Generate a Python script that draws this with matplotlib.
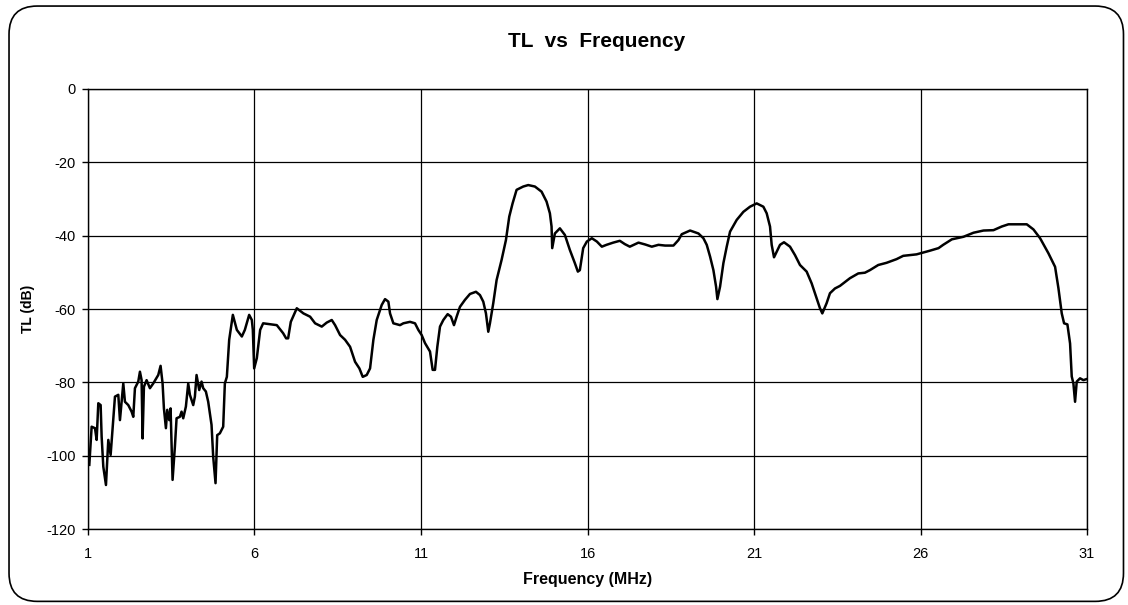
import matplotlib
matplotlib.use("Agg")
import matplotlib.pyplot as plt
from matplotlib.patches import FancyBboxPatch

# frequency (MHz) and transmission loss (dB)
freq = [1.04, 1.11, 1.21, 1.26, 1.31, 1.38, 1.41, 1.46, 1.54, 1.61, 1.68, 1.76, 1.81,
        1.91, 1.96, 2.01, 2.06, 2.11, 2.21, 2.31, 2.36, 2.41, 2.51, 2.56, 2.61, 2.64,
        2.68, 2.76, 2.86, 2.96, 3.11, 3.18, 3.24, 3.28, 3.34, 3.38, 3.44, 3.48, 3.54,
        3.61, 3.66, 3.76, 3.81, 3.86, 3.94, 4.01, 4.06, 4.16, 4.21, 4.26, 4.34, 4.41,
        4.46, 4.54, 4.61, 4.71, 4.76, 4.83, 4.88, 4.96, 5.06, 5.11, 5.17, 5.24, 5.35,
        5.47, 5.62, 5.71, 5.84, 5.92, 5.95, 5.99, 6.07, 6.17, 6.26, 6.67, 6.86, 6.95,
        7.01, 7.09, 7.27, 7.47, 7.67, 7.82, 8.02, 8.17, 8.32, 8.42, 8.57, 8.72, 8.87,
        9.02, 9.15, 9.25, 9.37, 9.47, 9.57, 9.67, 9.82, 9.92, 10.02, 10.07, 10.17,
        10.37, 10.47, 10.67, 10.82, 10.92, 11.02, 11.12, 11.27, 11.35, 11.42, 11.49,
        11.57, 11.67, 11.80, 11.90, 11.99, 12.07, 12.17, 12.32, 12.47, 12.65, 12.77,
        12.87, 12.95, 13.02, 13.07, 13.17, 13.27, 13.42, 13.55, 13.65, 13.75, 13.87,
        14.07, 14.22, 14.42, 14.62, 14.77, 14.87, 14.92, 14.94, 15.02, 15.17, 15.32,
        15.47, 15.62, 15.71, 15.77, 15.87, 15.98, 16.13, 16.28, 16.43, 16.57, 16.77,
        16.97, 17.12, 17.27, 17.53, 17.73, 17.93, 18.13, 18.33, 18.58, 18.73, 18.83,
        19.08, 19.33, 19.48, 19.58, 19.68, 19.78, 19.86, 19.90, 19.98, 20.08, 20.18,
        20.28, 20.48, 20.68, 20.88, 21.08, 21.28, 21.38, 21.48, 21.53, 21.60, 21.68,
        21.78, 21.90, 22.08, 22.23, 22.38, 22.58, 22.73, 22.88, 22.98, 23.05, 23.18,
        23.28, 23.43, 23.58, 23.68, 23.88, 24.13, 24.33, 24.48, 24.73, 24.98, 25.28,
        25.48, 25.88, 26.00, 26.28, 26.54, 26.68, 26.94, 27.29, 27.59, 27.89, 28.19,
        28.44, 28.64, 28.89, 29.19, 29.39, 29.59, 29.84, 30.04, 30.14, 30.24, 30.31,
        30.41, 30.49, 30.54, 30.59, 30.64, 30.69, 30.79, 30.89, 30.99]
tl_db = [-102.5, -92.1, -92.5, -95.7, -85.7, -86.2, -94.8, -103.0, -108.0, -95.7, -99.8,
         -89.8, -83.9, -83.4, -90.3, -85.3, -80.3, -85.3, -86.2, -88.0, -89.4, -81.6,
         -79.8, -77.1, -79.4, -95.3, -81.2, -79.4, -81.6, -80.3, -78.0, -75.5, -80.3,
         -87.1, -92.5, -87.5, -90.3, -87.1, -106.6, -97.5, -89.8, -89.4, -88.0, -89.8,
         -86.6, -80.3, -83.4, -86.2, -83.9, -78.0, -82.1, -79.8, -81.6, -82.5, -85.3,
         -91.6, -100.3, -107.5, -94.4, -93.9, -92.1, -80.3, -78.5, -68.4, -61.6, -65.7,
         -67.5, -65.7, -61.6, -63.0, -65.7, -76.2, -73.4, -65.7, -63.9, -64.4, -66.6,
         -68.0, -68.0, -63.5, -59.8, -61.2, -62.1, -63.9, -64.8, -63.7, -63.0, -64.4,
         -67.1, -68.4, -70.3, -74.4, -76.2, -78.5, -78.0, -76.2, -68.4, -63.0, -58.9,
         -57.3, -58.0, -61.2, -63.9, -64.4, -63.9, -63.5, -63.9, -65.7, -67.1, -69.3,
         -71.6, -76.6, -76.6, -70.3, -64.8, -63.0, -61.4, -62.1, -64.4, -62.1, -59.4,
         -57.5, -55.9, -55.3, -56.2, -58.0, -61.2, -66.2, -63.9, -58.4, -52.1, -46.6,
         -41.2, -34.8, -31.2, -27.5, -26.6, -26.2, -26.6, -28.0, -30.7, -33.9, -37.5,
         -43.4, -39.4, -38.0, -39.8, -43.9, -47.5, -49.8, -49.4, -43.4, -41.6, -40.7,
         -41.6, -43.0, -42.5, -41.9, -41.4, -42.3, -43.0, -41.9, -42.4, -43.0, -42.5,
         -42.7, -42.7, -41.2, -39.6, -38.6, -39.4, -40.7, -42.5, -45.7, -49.4, -53.9,
         -57.3, -53.9, -47.5, -43.0, -38.9, -35.7, -33.5, -32.1, -31.2, -32.1, -33.9,
         -37.5, -42.5, -45.9, -44.4, -42.5, -41.8, -43.0, -45.3, -48.0, -49.8, -53.0,
         -57.1, -59.8, -61.2, -58.4, -55.7, -54.4, -53.7, -53.0, -51.6, -50.3, -50.1,
         -49.4, -48.0, -47.4, -46.4, -45.5, -45.1, -44.8, -44.1, -43.4, -42.5, -41.0,
         -40.3, -39.2, -38.6, -38.5, -37.5, -36.9, -36.9, -36.9, -38.3, -40.7, -44.8,
         -48.5, -54.3, -61.2, -63.9, -64.2, -69.4, -78.4, -80.3, -85.3, -79.8, -78.9,
         -79.4, -79.1]

x_ticks = [1, 6, 11, 16, 21, 26, 31]
y_ticks = [0, -20, -40, -60, -80, -100, -120]

plt.rcParams["font.family"] = ["Liberation Sans", "DejaVu Sans"]

fig = plt.figure(figsize=(11.28, 6.05), dpi=100)
ax = fig.add_axes([0.078, 0.1256, 0.8857, 0.7273])

# rounded chart border, as in the spreadsheet export
border = FancyBboxPatch((0.008, 0.006), 0.988, 0.984, boxstyle="round,pad=0,rounding_size=0.025",
                        transform=fig.transFigure, fill=False, ec="black", lw=1.2,
                        mutation_aspect=1128 / 605)
fig.patches.append(border)

ax.plot(freq, tl_db, color="black", lw=1.8, zorder=3)

ax.set_xlim(1, 31)
ax.set_ylim(-120, 0)
ax.set_xticks(x_ticks)
ax.set_yticks(y_ticks)
ax.set_xticklabels([str(v) for v in x_ticks])
ax.set_yticklabels([str(v) for v in y_ticks])
ax.grid(True, color="black", lw=0.9)
ax.set_axisbelow(True)
for s in ax.spines.values():
    s.set_color("black")
    s.set_linewidth(1.0)
ax.tick_params(direction="out", length=4, width=1, labelsize=10.5, colors="black")
ax.tick_params(axis="x", pad=9)
ax.tick_params(axis="y", pad=5)

ax.set_xlabel("Frequency (MHz)", fontsize=11.5, fontweight="bold", labelpad=8)
ax.set_ylabel("TL (dB)", fontsize=10, fontweight="bold", labelpad=8)
fig.text(0.529, 0.932, "TL  vs  Frequency", ha="center", va="center",
         fontsize=15, fontweight="bold")

fig.savefig("out.png", dpi=100)
